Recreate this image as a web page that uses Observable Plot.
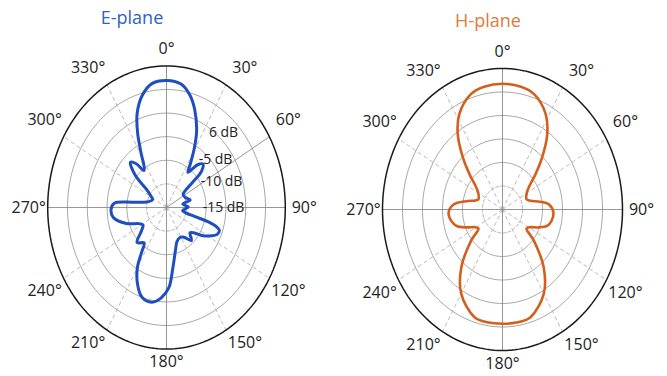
<!DOCTYPE html>
<html><head><meta charset="utf-8">
<script src="https://cdn.jsdelivr.net/npm/d3@7"></script>
<script src="https://cdn.jsdelivr.net/npm/@observablehq/plot@0.6"></script>
<style>
body{margin:0;background:#fff;}
#wrap{position:relative;width:667px;height:376px;overflow:hidden;font-family:"Open Sans",sans-serif;background:#fff;}
.panel{position:absolute;top:0;}
.title{position:absolute;font-size:18px;transform:translate(-50%,-50%);white-space:nowrap;line-height:1;}
</style></head><body>
<div id="wrap"></div>
<script>
// ---- data ----
const angleTicks = [0, 30, 60, 90, 120, 150, 180, 210, 240, 270, 300, 330];
const ringLevels = [-20, -15, -10, -5, 0, 5];           // dB, 5 dB per ring
const dbLabels = ["6 dB", "-5 dB", "-10 dB", "-15 dB"];
const titles = ["E-plane", "H-plane"];

// E-plane pattern: angle (deg, clockwise from top) and gain (dB)
const eAngles = [0, 8, 14, 19, 25, 29, 33, 36, 41, 45, 49, 51, 53, 57, 66, 75, 80, 89, 99, 103,
  105, 106, 107.5, 110, 114, 118, 123, 128, 132, 138, 145, 152, 160, 165, 173, 178, 184, 190.5, 198, 204.5,
  210, 213.5, 217, 225, 232, 238, 244, 251.5, 261, 268.5, 274, 277.5, 283, 295, 302, 307, 311, 316.5, 320.5, 324,
  331.5, 335, 339.5, 345.5, 352];
const eGain = [1.9, 1.4, -0.5, -3.1, -7.0, -10.4, -13.9, -15.8, -13.0, -12.0, -13.3, -16.5, -19.0, -20.0, -19.8, -18.8, -20.8, -19.5, -20.9, -20.0,
  -17.5, -14.0, -12.0, -10.8, -11.0, -12.2, -14.0, -16.3, -17.0, -15.6, -17.3, -17.8, -17.3, -16.0, -12.0, -8.0, -5.8, -4.6, -5.0, -7.3,
  -10.3, -13.6, -15.6, -14.5, -17.0, -18.0, -17.2, -14.3, -11.4, -11.0, -11.8, -16.5, -19.8, -21.1, -20.3, -18.8, -14.5, -11.8, -13.0, -15.3,
  -11.3, -7.8, -3.8, -0.5, 1.5];

// H-plane pattern
const hAngles = [0, 10, 18, 28, 35, 42, 48, 53, 60, 70, 75, 80, 85, 93, 101, 107, 113, 118, 124, 130,
  140, 150, 163, 172, 180, 188, 197, 210, 220, 230, 236, 242, 247, 253, 259, 267, 275, 281, 286, 290,
  300, 307, 312, 318, 325, 332, 342, 350];
const hGain = [1.75, 1.5, 0.75, -2.0, -5.5, -10.25, -14.0, -16.5, -18.0, -18.6, -17.8, -15.5, -13.25, -12.25, -12.5, -13.25, -15.25, -17.0, -17.75, -14.8,
  -9.0, -4.35, -1.05, -0.7, -0.7, -0.7, -1.05, -4.35, -9.0, -14.8, -17.75, -17.0, -15.25, -13.0, -12.0, -11.5, -12.75, -15.75, -18.0, -18.6,
  -18.0, -16.5, -14.0, -10.25, -5.5, -2.0, 0.75, 1.5];

// ---- layout ----
const layout = [
  {left: 0, width: 333, cx: 166, cy: 207, ux: 19.8, uy: 23.6, color: "#1f4fbf", lw: 3.0, titleColor: "#2d62c8", tx: 132, ty: 17},
  {left: 333, width: 334, cx: 169, cy: 209, ux: 20, uy: 23.5, color: "#d35f1c", lw: 2.6, titleColor: "#e07a3a", tx: 155, ty: 20}
];
const H = 376;
const labelGapX = 19, labelGapTop = 17, labelGapBottom = 13;   // px outside the outer ring
const dbLabelOffsets = [[57, 75], [49, 48], [55, 26], [57, 0]]; // px from centre

const rScale = d3.scaleLinear().domain([-25, 5]).range([0, 6]);
const rad = d => d * Math.PI / 180;
const sgn = v => Math.abs(v) < 1e-9 ? 0 : Math.sign(v);
const toXY = (deg, r) => ({x: r * Math.sin(rad(deg)), y: r * Math.cos(rad(deg))});

function panel(L, angles, gains, showDb) {
  const xDomain = [-L.cx / L.ux, (L.width - L.cx) / L.ux];
  const yDomain = [-(H - L.cy) / L.uy, L.cy / L.uy];
  const ringPts = [];
  ringLevels.forEach(lv => {
    for (let a = 0; a <= 360; a += 2) ringPts.push({lv, ...toXY(a, rScale(lv))});
  });
  const outerR = rScale(ringLevels[ringLevels.length - 1]);
  const spokes = angleTicks.map(a => ({a, ...toXY(a, outerR)}));
  const pattern = angles.map((a, i) => toXY(a, rScale(gains[i])));
  const gapY = a => { const c = sgn(Math.cos(rad(a))); return c > 0 ? labelGapTop : c < 0 ? -labelGapBottom : 0; };
  const marks = [
    Plot.line(ringPts.filter(d => d.lv === -20), {x: "x", y: "y", z: "lv", stroke: "#9a9a9a", strokeWidth: 0.8, strokeDasharray: "3,2"}),
    Plot.line(ringPts.filter(d => d.lv > -20 && d.lv < 5), {x: "x", y: "y", z: "lv", stroke: "#9c9c9c", strokeWidth: 0.9}),
    Plot.link(spokes.filter(d => d.a % 90 !== 0 && !(showDb && d.a === 60)), {x1: 0, y1: 0, x2: "x", y2: "y", stroke: "#a8a8a8", strokeWidth: 0.8, strokeDasharray: "4,3"}),
    Plot.link(spokes.filter(d => d.a % 90 === 0 || (showDb && d.a === 60)), {x1: 0, y1: 0, x2: "x", y2: "y", stroke: "#8a8a8a", strokeWidth: 0.9}),
    Plot.line(ringPts.filter(d => d.lv === 5), {x: "x", y: "y", stroke: "#1a1a1a", strokeWidth: 1.5}),
    Plot.line(pattern, {x: "x", y: "y", stroke: L.color, strokeWidth: L.lw, curve: "catmull-rom-closed", strokeLinejoin: "round"}),
    Plot.text(angleTicks, {
      x: a => outerR * Math.sin(rad(a)) + sgn(Math.sin(rad(a))) * labelGapX / L.ux,
      y: a => outerR * Math.cos(rad(a)) + gapY(a) / L.uy,
      text: a => a + "°", fontSize: 16, fill: "#222", fontFamily: "Open Sans"
    })
  ];
  if (showDb) {
    marks.push(Plot.text(dbLabels, {
      x: (d, i) => dbLabelOffsets[i][0] / L.ux,
      y: (d, i) => dbLabelOffsets[i][1] / L.uy,
      text: d => d, fontSize: 14, fill: "#222", fontFamily: "Open Sans"
    }));
  }
  return Plot.plot({
    width: L.width, height: H, margin: 0,
    x: {domain: xDomain, range: [0, L.width], axis: null},
    y: {domain: yDomain, range: [H, 0], axis: null},
    style: {background: "transparent", overflow: "visible"},
    marks
  });
}

const wrap = document.getElementById("wrap");
[[eAngles, eGain, true], [hAngles, hGain, false]].forEach(([a, g, db], i) => {
  const L = layout[i];
  const div = document.createElement("div");
  div.className = "panel";
  div.style.left = L.left + "px";
  div.appendChild(panel(L, a, g, db));
  wrap.appendChild(div);
  const t = document.createElement("div");
  t.className = "title";
  t.style.left = (L.left + L.tx) + "px";
  t.style.top = L.ty + "px";
  t.style.color = L.titleColor;
  t.textContent = titles[i];
  wrap.appendChild(t);
});
</script>
</body></html>
